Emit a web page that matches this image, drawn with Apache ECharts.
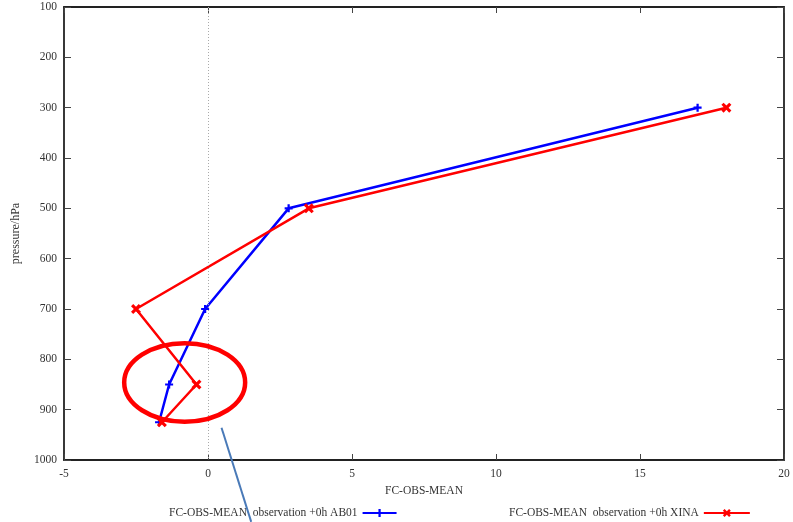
<!DOCTYPE html>
<html>
<head>
<meta charset="utf-8">
<script src="https://cdn.jsdelivr.net/npm/echarts@6/dist/echarts.min.js"></script>
<style>html,body{margin:0;padding:0;background:#fff}#c{width:793px;height:522px}</style>
</head>
<body>
<div id="c"></div>
<script>
var pressure = [300, 500, 700, 850, 925];
var ab01 = [17.0, 2.8, -0.1, -1.35, -1.7];
var xina = [18.0, 3.5, -2.5, -0.4, -1.6];
var yTicks = [100, 200, 300, 400, 500, 600, 700, 800, 900, 1000];
var xTicks = [-5, 0, 5, 10, 15, 20];
var nameA = 'FC-OBS-MEAN  observation +0h AB01';
var nameB = 'FC-OBS-MEAN  observation +0h XINA';

function pairs(xs) { return xs.map(function (v, i) { return [v, pressure[i]]; }); }

var font = 'Liberation Serif';
var plus = 'path://M3.6,0H6.4V3.6H10V6.4H6.4V10H3.6V6.4H0V3.6H3.6Z';
var cross = 'path://M2.2,0L5,2.8L7.8,0L10,2.2L7.2,5L10,7.8L7.8,10L5,7.2L2.2,10L0,7.8L2.8,5L0,2.2Z';

var chart = echarts.init(document.getElementById('c'));
function axLine() { return { show: true, onZero: false, lineStyle: { color: '#222', width: 1.8 } }; }
var txt = { fontFamily: font, fontSize: 11.5, color: '#333' };
var option = {
  animation: false,
  grid: { left: 64, right: 9, top: 7, bottom: 62, containLabel: false },
  legend: [
    { data: [nameA], left: 164, top: 502, align: 'right', itemWidth: 34, itemHeight: 10, textStyle: txt },
    { data: [nameB], left: 504, top: 502, align: 'right', itemWidth: 46, itemHeight: 10, textStyle: txt }
  ],
  xAxis: [
    { type: 'value', min: xTicks[0], max: xTicks[xTicks.length - 1], interval: 5, position: 'bottom',
      name: 'FC-OBS-MEAN', nameLocation: 'middle', nameGap: 20, nameTextStyle: txt,
      axisLine: axLine(), axisTick: { show: true, inside: true, length: 6, lineStyle: { color: '#444' } },
      axisLabel: { fontFamily: font, fontSize: 11.5, color: '#333', margin: 8 },
      splitLine: { show: false } },
    { type: 'value', min: xTicks[0], max: xTicks[xTicks.length - 1], interval: 5, position: 'top',
      axisLine: axLine(), axisTick: { show: true, inside: true, length: 6, lineStyle: { color: '#444' } },
      axisLabel: { show: false }, splitLine: { show: false } }
  ],
  yAxis: [
    { type: 'value', inverse: true, min: yTicks[0], max: yTicks[yTicks.length - 1], interval: 100, position: 'left',
      name: 'pressure/hPa', nameLocation: 'middle', nameGap: 42, nameRotate: 90,
      nameTextStyle: { fontFamily: font, fontSize: 12, color: '#333' },
      axisLine: axLine(), axisTick: { show: true, inside: true, length: 7, lineStyle: { color: '#444' } },
      axisLabel: { fontFamily: font, fontSize: 11.5, color: '#333', margin: 7, formatter: function (v) { return String(v); } },
      splitLine: { show: false } },
    { type: 'value', inverse: true, min: yTicks[0], max: yTicks[yTicks.length - 1], interval: 100, position: 'right',
      axisLine: axLine(), axisTick: { show: true, inside: true, length: 7, lineStyle: { color: '#444' } },
      axisLabel: { show: false }, splitLine: { show: false } }
  ],
  series: [
    { name: nameA, type: 'line', data: pairs(ab01), symbol: plus, symbolSize: 8, showSymbol: true,
      lineStyle: { color: '#0000ff', width: 2.5 }, itemStyle: { color: '#0000ff' },
      markLine: { silent: true, symbol: 'none', label: { show: false },
        lineStyle: { color: '#aaa', type: [1, 2], width: 1 }, data: [{ xAxis: 0 }] } },
    { name: nameB, type: 'line', data: pairs(xina), symbol: cross, symbolSize: 10, showSymbol: true,
      lineStyle: { color: '#ff0000', width: 2.5 }, itemStyle: { color: '#ff0000' } }
  ]
};
chart.setOption(option);

// Annotations placed through the chart's own coordinate conversion
var c = chart.convertToPixel({ gridIndex: 0 }, [-0.81, 846]);
var e1 = chart.convertToPixel({ gridIndex: 0 }, [-0.81 + 2.1, 846 + 78]);
var a1 = chart.convertToPixel({ gridIndex: 0 }, [0.47, 936]);
var a2 = chart.convertToPixel({ gridIndex: 0 }, [1.5, 1123]);
chart.setOption({
  graphic: [
    { type: 'ellipse', shape: { cx: c[0], cy: c[1], rx: e1[0] - c[0], ry: e1[1] - c[1] },
      style: { fill: 'none', stroke: '#ff0000', lineWidth: 4.5 }, z: 100 },
    { type: 'line', shape: { x1: a1[0], y1: a1[1], x2: a2[0], y2: a2[1] },
      style: { stroke: '#4a7ab8', lineWidth: 2 }, z: 100 }
  ]
});
</script>
</body>
</html>
